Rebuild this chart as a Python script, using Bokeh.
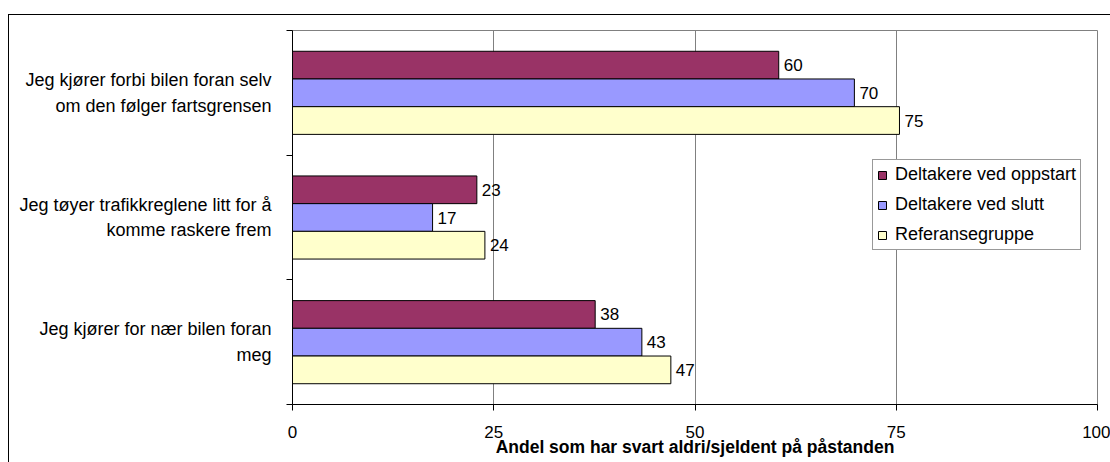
from bokeh.plotting import figure
from bokeh.models import ColumnDataSource, Range1d, FixedTicker, Legend, LegendItem
from bokeh.core.properties import value
from bokeh.embed import file_html
from bokeh.resources import INLINE

# ---- data (top to bottom as in the chart) ----
categories = [
    "Jeg kjører forbi bilen foran selv\nom den følger fartsgrensen",
    "Jeg tøyer trafikkreglene litt for å\nkomme raskere frem",
    "Jeg kjører for nær bilen foran\nmeg",
]
series_names = ["Deltakere ved oppstart", "Deltakere ved slutt", "Referansegruppe"]
oppstart = [60.4, 22.9, 37.6]
slutt = [69.8, 17.4, 43.4]
referanse = [75.4, 23.9, 47.0]
x_ticks = [0, 25, 50, 75, 100]
x_title = "Andel som har svart aldri/sjeldent på påstanden"
colors = ["#993366", "#9999FF", "#FFFFCC"]

FONT = "Liberation Sans"
n = len(categories)
centers = [n - i - 0.5 for i in range(n)]
bar_h = 1 / 4.5
offsets = [bar_h, 0.0, -bar_h]

p = figure(width=1102, height=448, x_range=Range1d(0, 100), y_range=Range1d(0, n),
           output_backend="svg", toolbar_location=None,
           min_border_left=283, min_border_right=14, min_border_top=15, min_border_bottom=59)
p.margin = (14, 0, 0, 8)
p.styles = {"border-left": "1px solid black", "border-top": "1px solid black"}
p.background_fill_color = "white"
p.border_fill_color = "white"
p.outline_line_color = "#808080"
p.outline_line_width = 1

# grid
p.ygrid.grid_line_color = None
p.xgrid.ticker = FixedTicker(ticks=[t for t in x_ticks if 0 < t < 100])
p.xgrid.grid_line_color = "#808080"
p.xgrid.grid_line_width = 1

# x axis
xa = p.xaxis[0]
xa.ticker = FixedTicker(ticks=x_ticks)
xa.axis_line_color = "black"
xa.major_tick_line_color = "black"
xa.major_tick_out = 6
xa.major_tick_in = 0
xa.minor_tick_line_color = None
xa.major_label_text_font = FONT
xa.major_label_text_font_size = "17px"
xa.major_label_text_color = "black"
xa.major_label_standoff = 15
xa.axis_label = x_title
xa.axis_label_text_font = FONT
xa.axis_label_text_font_size = "17.5px"
xa.axis_label_text_font_style = "bold"
xa.axis_label_text_color = "black"
xa.axis_label_standoff = -4

# y axis: labels at category centres, small ticks at category boundaries
ya = p.yaxis[0]
ya.ticker = FixedTicker(ticks=centers, minor_ticks=list(range(n + 1)))
ya.major_label_overrides = {c: cat for c, cat in zip(centers, categories)}
ya.axis_line_color = "black"
ya.major_tick_line_color = None
ya.major_tick_out = 0
ya.major_tick_in = 0
ya.minor_tick_line_color = "black"
ya.minor_tick_out = 6
ya.minor_tick_in = 0
ya.major_label_text_font = FONT
ya.major_label_text_font_size = "18px"
ya.major_label_text_color = "black"
ya.major_label_text_align = "center"
ya.major_label_text_line_height = 1.28
ya.major_label_standoff = 15

# bars + data labels
items = []
for name, vals, col, off in zip(series_names, [oppstart, slutt, referanse], colors, offsets):
    src = ColumnDataSource(dict(
        y=[c + off for c in centers],
        v=vals,
        lab=[f"{round(v):d}" for v in vals],
    ))
    r = p.hbar(y="y", left=0, right="v", height=bar_h, source=src,
               fill_color=col, line_color="black", line_width=1)
    p.text(x="v", y="y", text="lab", source=src, x_offset=5,
           text_baseline="middle", text_align="left",
           text_font=value(FONT), text_font_size="17px", text_color="black")
    items.append(LegendItem(label=name, renderers=[r]))

legend = Legend(items=items, location=(580, 154))
legend.border_line_color = "#333333"
legend.border_line_width = 1
legend.background_fill_color = "white"
legend.background_fill_alpha = 1
legend.glyph_width = 10
legend.glyph_height = 10
legend.label_standoff = 8
legend.label_height = 20
legend.spacing = 9
legend.padding = 4
legend.margin = 0
legend.label_text_font = FONT
legend.label_text_font_size = "18px"
legend.label_text_color = "black"
p.add_layout(legend)

open("out.html", "w").write(file_html(p, INLINE))
